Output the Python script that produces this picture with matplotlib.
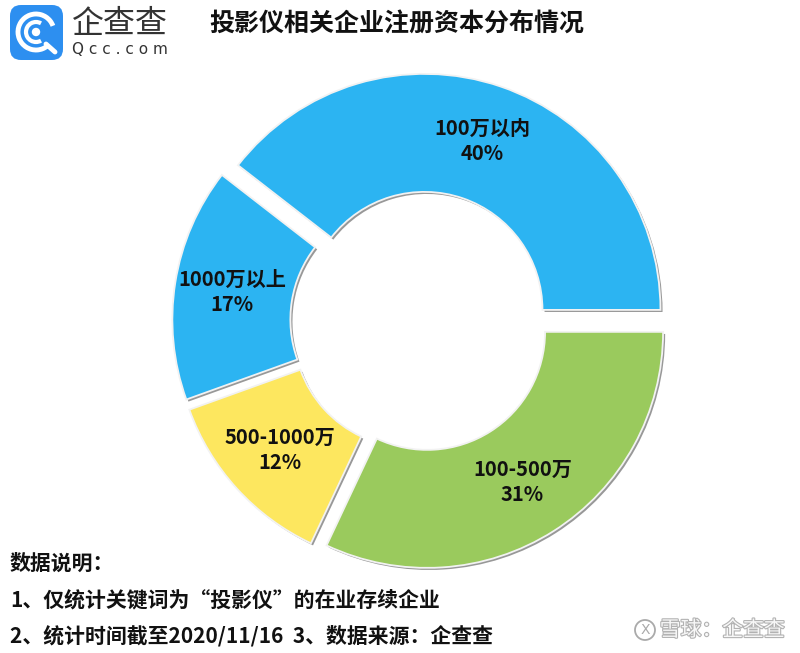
import numpy as np
import matplotlib.pyplot as plt
from matplotlib import patheffects as pe
from matplotlib.patches import FancyBboxPatch, Arc, Circle

plt.rcParams['font.family'] = ['Noto Sans CJK SC', 'DejaVu Sans']

# data: slice sizes as drawn, and the printed percentages
labels = ["100万以内", "100-500万", "500-1000万", "1000万以上"]
shares = [39.5, 32, 12.5, 16]
pct_text = ["40%", "31%", "12%", "17%"]
colors = ["#2cb4f2", "#9aca5d", "#fde75f", "#2cb4f2"]

title = "投影仪相关企业注册资本分布情况"
notes = ["数据说明：",
         "1、仅统计关键词为“投影仪”的在业存续企业",
         "2、统计时间截至2020/11/16  3、数据来源：企查查"]

fig = plt.figure(figsize=(8, 6.53), dpi=100)

# donut, center at about (420, 322) px, outer radius ~236 px
cx_px, cy_px, r_px = 420.5, 321.5, 236
ax = fig.add_axes([0, 0, 1, 1])
start = 360 * shares[0] / sum(shares)
wedges, _ = ax.pie(shares, explode=[0.052] * 4, startangle=start, counterclock=False,
                   colors=colors, radius=1,
                   wedgeprops=dict(width=0.5, edgecolor="#f2f2f2", linewidth=1.3))
for w in wedges:
    w.set_path_effects([pe.withSimplePatchShadow(offset=(1.5, -1.5),
                                                 shadow_rgbFace="#444444", alpha=0.55)])

for w, lab, pct in zip(wedges, labels, pct_text):
    ang = np.deg2rad((w.theta1 + w.theta2) / 2)
    cx, cy = w.center
    x = cx + 0.755 * np.cos(ang)
    y = cy + 0.755 * np.sin(ang)
    ax.text(x, y, f"{lab}\n{pct}", ha="center", va="center", fontsize=14.5,
            fontweight="bold", color="#111111", linespacing=1.25)

ax.set_xlim(-cx_px / r_px, (800 - cx_px) / r_px)
ax.set_ylim(-(653 - cy_px) / r_px, cy_px / r_px)
ax.set_aspect("auto")
ax.axis("off")

# overlay in pixel coordinates
ov = fig.add_axes([0, 0, 1, 1])
ov.set_xlim(0, 800)
ov.set_ylim(653, 0)
ov.axis("off")

ov.text(397, 25, title, ha="center", va="center", fontsize=18, fontweight="bold",
        color="#111111")

# logo
ov.add_patch(FancyBboxPatch((10, 5), 53, 55, boxstyle="round,pad=0,rounding_size=11",
                            facecolor="#2d8ff0", edgecolor="none"))
ov.add_patch(Arc((36, 32), 36, 36, theta1=50, theta2=340, color="white", lw=3.5))
ov.add_patch(Arc((36, 32), 20, 20, theta1=60, theta2=300, color="white", lw=3))
ov.add_patch(Circle((36, 32), 3.5, color="white"))
ov.plot([46, 55], [44, 52], color="white", lw=3.5, solid_capstyle="round")
ov.text(120, 24, "企查查", ha="center", va="center", fontsize=23, color="#333333",
        fontweight="light")
ov.text(120, 50, "Q c c . c o m", ha="center", va="center", fontsize=11,
        color="#333333", family="DejaVu Sans")

# notes
for i, line in enumerate(notes):
    ov.text(10, 563 + i * 36.5, line, ha="left", va="center", fontsize=15,
            fontweight="bold", color="#111111")

# watermark
ov.text(785, 630, "雪球：企查查", ha="right", va="center", fontsize=15,
        color="white", alpha=0.9,
        path_effects=[pe.withStroke(linewidth=1.6, foreground="#aaaaaa")])
ov.add_patch(Circle((645, 630), 10, facecolor="white", edgecolor="#aaaaaa", lw=1.3))
ov.text(645, 630, "X", ha="center", va="center", fontsize=10, color="#aaaaaa",
        family="DejaVu Sans")

fig.savefig("out.png", dpi=100)
